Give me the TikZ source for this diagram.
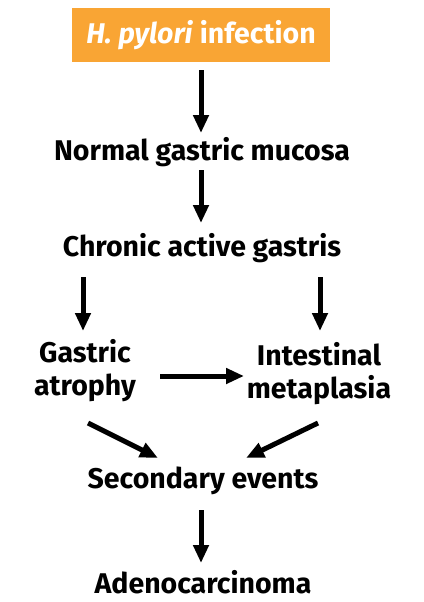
\documentclass[tikz,border=0pt]{standalone}
\usepackage{fontspec}
\setmainfont{Fira Sans}
\usetikzlibrary{positioning,arrows.meta,calc}
\definecolor{pyloriorange}{RGB}{249,165,52}

\begin{document}
\begin{tikzpicture}[x=1pt,y=-1pt,
   every node/.style={font=\fontsize{28.5}{33}\selectfont\bfseries,align=center,inner sep=0pt},
   stage/.style={text=black},
   flow/.style={line width=5pt,-{Triangle[length=18pt,width=15pt]}}]
  \useasboundingbox (0,0) rectangle (423,602);
  % top box
  \node[fill=pyloriorange,text=white,minimum width=258pt,minimum height=54pt] (hp) at (201,35) {\textit{H. pylori} infection};
  \node[stage] (normal) at (202,152) {Normal gastric mucosa};
  \node[stage] (chronic) at (202,248) {Chronic active gastris};
  \node[stage] (atrophy) at (85,371) {Gastric\\atrophy};
  \node[stage] (meta) at (319,374) {Intestinal\\metaplasia};
  \node[stage] (second) at (203,481) {Secondary events};
  \node[stage] (adeno) at (203,582) {Adenocarcinoma};
  % arrow ends
  \coordinate (a1) at (201,70);  \coordinate (b1) at (201,133);
  \coordinate (a2) at (201,170); \coordinate (b2) at (201,223);
  \coordinate (a3) at (83,277);  \coordinate (b3) at (83,331);
  \coordinate (a4) at (320,277); \coordinate (b4) at (320,331);
  \coordinate (a5) at (160,376); \coordinate (b5) at (244,376);
  \coordinate (a6) at (88,423);  \coordinate (b6) at (158,458);
  \coordinate (a7) at (318,423); \coordinate (b7) at (246,458);
  \coordinate (a8) at (201,510); \coordinate (b8) at (201,563);
  \foreach \i in {1,...,8}
    \draw[flow] (a\i) -- (b\i);
\end{tikzpicture}
\end{document}
